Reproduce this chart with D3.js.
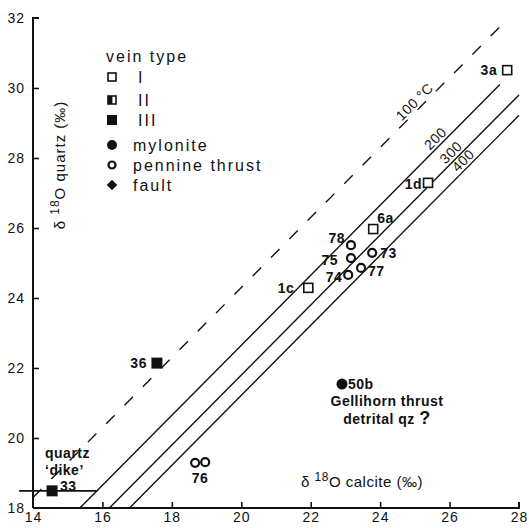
<!DOCTYPE html>
<meta charset="utf-8">
<style>
body { margin: 0; background: #fff; }
text { font-family: "Liberation Sans", Arial, sans-serif; fill: #111; }
.lbl { font-weight: bold; font-size: 14px; letter-spacing: 0.5px; }
.tick { font-size: 14px; letter-spacing: 1px; }
.leg { font-size: 16px; letter-spacing: 2px; }
</style>
<body>
<script src="https://cdn.jsdelivr.net/npm/d3@7"></script>
<script>

var width = 529,
    height = 528;

// axis ticks
var xTicks = [14, 16, 18, 20, 22, 24, 26, 28];
var yTicks = [18, 20, 22, 24, 26, 28, 30, 32];

// isotherms: quartz - calcite fractionation (d18O qz = d18O cc + delta)
var isoLabels = ["100 °C", "200", "300", "400"];
var isoDelta  = [4.3, 2.65, 1.8, 1.22];
var isoStart  = [14, 15.35, 16.2, 16.78];
var isoEnd    = [27.7, 27.45, 28, 28];
var isoLabelX = [25.15, 25.75, 26.2, 26.55];

// samples
var names = ["3a", "1d", "6a", "1c", "78", "75", "73", "77", "74", "76", "76", "36", "33", "50b"];
var calc  = [27.66, 25.38, 23.8, 21.93, 23.16, 23.16, 23.77, 23.45, 23.08, 18.67, 18.96, 17.57, 14.55, 22.9];
var qtz   = [30.51, 27.29, 25.97, 24.29, 25.51, 25.14, 25.29, 24.86, 24.66, 19.29, 19.31, 22.14, 18.49, 21.54];
var kind  = ["I", "I", "I", "I", "pen", "pen", "pen", "pen", "pen", "pen", "pen", "III", "III", "myl"];

// range of the quartz dike sample 33
var dikeRange = [13.6, 15.85];

var legendKinds  = ["I", "II", "III", "myl", "pen", "fault"];
var legendLabels = ["I", "II", "III", "mylonite", "pennine thrust", "fault"];

// label placement (px offsets from the marker)
var labelPos = {
  "3a": [-10, 5, "end"], "1d": [-6, 6, "end"], "6a": [4, -6, "start"],
  "1c": [-14, 5, "end"], "78": [-6, -2, "end"], "75": [-13, 7, "end"],
  "73": [8, 5, "start"], "77": [7, 8, "start"], "74": [-6, 7, "end"],
  "76": [5, 20, "middle"], "36": [-10, 5, "end"], "33": [8, 0, "start"],
  "50b": [6, 5, "start"]
};

var x = d3.scaleLinear().domain([14, 28]).range([33, 519]);
var y = d3.scaleLinear().domain([18, 32]).range([508, 18]);

var svg = d3.select("body").append("svg")
    .attr("width", width)
    .attr("height", height);

// isotherm lines
var line = d3.line()
    .x(function(d) { return x(d[0]); })
    .y(function(d) { return y(d[1]); });

isoDelta.forEach(function(dl, i) {
  svg.append("path")
      .attr("d", line([[isoStart[i], Math.max(18, isoStart[i] + dl)], [isoEnd[i], isoEnd[i] + dl]]))
      .attr("fill", "none")
      .attr("stroke", "#111")
      .attr("stroke-width", 1.4)
      .attr("stroke-dasharray", i == 0 ? "12,14" : null);

  var lx = isoLabelX[i];
  svg.append("text")
      .attr("transform", "translate(" + x(lx) + "," + y(lx + dl) + ") rotate(-45)")
      .attr("y", -3)
      .attr("text-anchor", "middle")
      .style("font-size", "14px")
      .style("letter-spacing", "0.5px")
      .style("paint-order", "stroke")
      .attr("stroke", i == 0 ? "#fff" : "none")
      .attr("stroke-width", 4)
      .text(isoLabels[i]);
});

// dike range bar
svg.append("line")
    .attr("x1", x(dikeRange[0])).attr("x2", x(dikeRange[1]))
    .attr("y1", y(18.49)).attr("y2", y(18.49))
    .attr("stroke", "#111").attr("stroke-width", 1.6);

// axes
var xAxis = d3.axisBottom(x).tickValues(xTicks).tickSize(-6).tickPadding(4).tickFormat(d3.format("d"));
var yAxis = d3.axisLeft(y).tickValues(yTicks).tickSize(-6).tickPadding(6).tickFormat(d3.format("d"));

var gx = svg.append("g").attr("transform", "translate(0," + y(18) + ")").call(xAxis);
var gy = svg.append("g").attr("transform", "translate(" + x(14) + ",0)").call(yAxis);

[gx, gy].forEach(function(g) {
  g.select(".domain").attr("stroke", "#111").attr("stroke-width", 2);
  g.selectAll(".tick line").attr("stroke", "#111").attr("stroke-width", 1.6);
  g.selectAll(".tick text").attr("class", "tick").attr("fill", "#111");
});
gx.select(".domain").attr("d", "M" + x(14) + ",0H" + x(28) + "V-6");
gy.select(".domain").attr("d", "M0," + (y(18)) + "V" + y(32) + "H6");
gx.selectAll(".tick").filter(function(d) { return d == 14 || d == 28; }).select("line").remove();
gy.selectAll(".tick").filter(function(d) { return d == 18 || d == 32; }).select("line").remove();
gy.selectAll(".tick text").attr("x", -8);

// axis titles
var xt = svg.append("text")
    .attr("x", 362).attr("y", 487)
    .attr("text-anchor", "middle")
    .style("font-size", "15px")
    .style("letter-spacing", "0.5px");
xt.append("tspan").text("\u03b4 ");
xt.append("tspan").attr("dy", -6).style("font-size", "12px").text("18");
xt.append("tspan").attr("dy", 6).text("O calcite  (\u2030)");

var yt = svg.append("text")
    .attr("transform", "translate(65,165) rotate(-90)")
    .attr("text-anchor", "middle")
    .style("font-size", "15px")
    .style("letter-spacing", "1px");
yt.append("tspan").text("\u03b4 ");
yt.append("tspan").attr("dy", -6).style("font-size", "12px").text("18");
yt.append("tspan").attr("dy", 6).text("O quartz  (\u2030)");

// markers
function drawMarker(g, k, cx, cy, s) {
  if (k == "I") {
    g.append("rect").attr("x", cx - s / 2).attr("y", cy - s / 2).attr("width", s).attr("height", s)
        .attr("fill", "#fff").attr("stroke", "#111").attr("stroke-width", 1.6);
  } else if (k == "II") {
    g.append("rect").attr("x", cx - s / 2).attr("y", cy - s / 2).attr("width", s).attr("height", s)
        .attr("fill", "#fff").attr("stroke", "#111").attr("stroke-width", 1.6);
    g.append("rect").attr("x", cx - s / 2).attr("y", cy - s / 2).attr("width", s * 0.55).attr("height", s)
        .attr("fill", "#111");
  } else if (k == "III") {
    g.append("rect").attr("x", cx - s / 2 - 1).attr("y", cy - s / 2 - 1).attr("width", s + 2).attr("height", s + 2)
        .attr("fill", "#111");
  } else if (k == "myl") {
    g.append("circle").attr("cx", cx).attr("cy", cy).attr("r", s / 2 + 1).attr("fill", "#111");
  } else if (k == "pen") {
    g.append("circle").attr("cx", cx).attr("cy", cy).attr("r", s / 2 - 0.5)
        .attr("fill", "#fff").attr("stroke", "#111").attr("stroke-width", 2.2);
  } else if (k == "fault") {
    g.append("path").attr("d", d3.symbol(d3.symbolDiamond2, s * s * 1.1)())
        .attr("transform", "translate(" + cx + "," + cy + ")").attr("fill", "#111");
  }
}

var pts = svg.append("g");
names.forEach(function(n, i) {
  drawMarker(pts, kind[i], x(calc[i]), y(qtz[i]), 9);
});

// sample labels (76 is labelled once, below the pair)
var done = {};
names.forEach(function(n, i) {
  if (done[n]) return;
  done[n] = true;
  var p = labelPos[n];
  svg.append("text")
      .attr("class", "lbl")
      .attr("x", x(calc[i]) + p[0])
      .attr("y", y(qtz[i]) + p[1])
      .attr("text-anchor", p[2])
      .text(n);
});

// annotations
svg.append("text").attr("class", "lbl").attr("x", 387).attr("y", 406).attr("text-anchor", "middle").text("Gellihorn thrust");
var det = svg.append("text").attr("class", "lbl").attr("x", 387).attr("y", 424).attr("text-anchor", "middle");
det.append("tspan").text("detrital qz ");
det.append("tspan").style("font-size", "18px").text("?");

svg.append("text").attr("class", "lbl").attr("x", 45).attr("y", 458).text("quartz");
svg.append("text").attr("class", "lbl").attr("x", 45).attr("y", 475).text("\u2018dike\u2019");

// legend
svg.append("text").attr("class", "leg").attr("x", 106).attr("y", 62).text("vein type");
var legY = [77, 100, 120, 145, 165, 185];
legendKinds.forEach(function(k, i) {
  drawMarker(svg, k, 112, legY[i], 8);
  svg.append("text")
      .attr("class", "leg")
      .attr("x", i < 3 ? 138 : 133)
      .attr("y", legY[i] + 6)
      .text(legendLabels[i]);
});

</script>
